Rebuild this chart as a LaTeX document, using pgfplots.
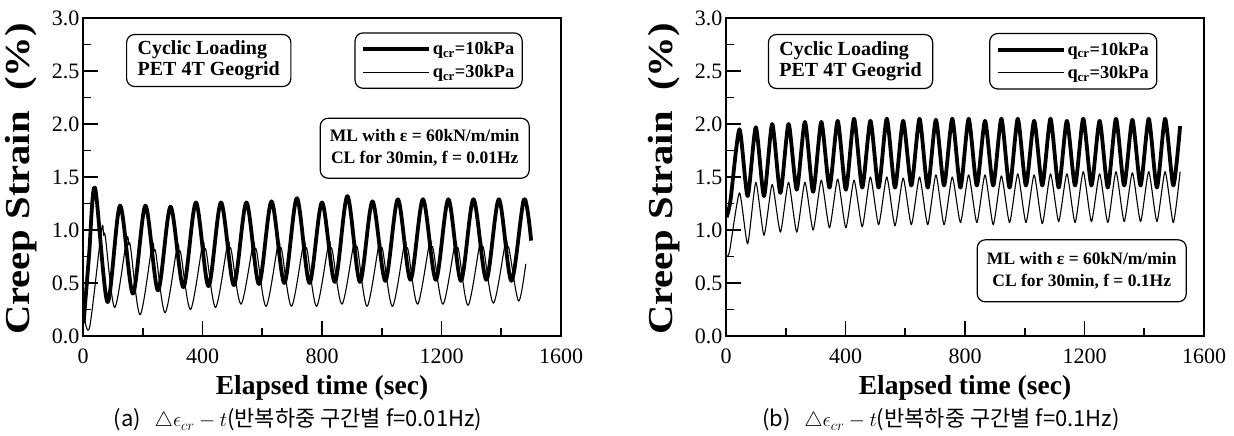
\documentclass[border=0pt]{standalone}
\usepackage{pgfplots}
\pgfplotsset{compat=1.18}
\usepackage{graphicx}
\usepackage{fontspec}
\setmainfont{Liberation Serif}
\newfontfamily\krfont{Noto Sans CJK KR}

\pgfplotstableread{
t v
2 0.12
20 0.75
40 1.40
82 0.32
124 1.23
167 0.40
209 1.23
251 0.43
293 1.22
336 0.46
378 1.26
420 0.47
462 1.26
505 0.48
547 1.26
589 0.49
631 1.27
674 0.50
716 1.30
758 0.50
800 1.26
843 0.51
885 1.32
927 0.51
969 1.27
1012 0.52
1054 1.29
1096 0.53
1138 1.29
1181 0.53
1223 1.29
1265 0.52
1307 1.29
1350 0.53
1392 1.29
1434 0.52
1476 1.29
1500 0.90
}\leftthick

\pgfplotstableread{
t v
2 0.22
22 0.08
62 1.00
69 0.95
75 0.93
106 0.27
146 0.91
153 0.86
159 0.84
191 0.20
231 0.85
238 0.80
244 0.78
275 0.22
315 0.84
322 0.79
328 0.77
360 0.25
400 0.86
407 0.81
413 0.79
444 0.27
484 0.87
491 0.82
497 0.80
529 0.30
569 0.86
576 0.81
582 0.79
613 0.28
653 0.87
660 0.82
666 0.80
698 0.28
738 0.87
745 0.82
751 0.80
782 0.28
822 0.87
829 0.82
835 0.80
867 0.30
907 0.88
914 0.83
920 0.81
951 0.28
991 0.87
998 0.82
1004 0.80
1036 0.28
1076 0.87
1083 0.82
1089 0.80
1120 0.30
1160 0.88
1167 0.83
1173 0.81
1205 0.30
1245 0.87
1252 0.82
1258 0.80
1289 0.29
1329 0.88
1336 0.83
1342 0.81
1374 0.31
1414 0.88
1421 0.83
1427 0.81
1458 0.33
1482 0.68
}\leftthin

\pgfplotstableread{
t v
2 1.12
15 1.28
45.0 1.95
72.4 1.32
99.8 1.97
127.2 1.32
154.6 2.00
182.0 1.35
209.4 2.00
236.8 1.38
264.2 2.02
291.6 1.36
319.0 2.02
346.4 1.40
373.8 2.03
401.2 1.38
428.6 2.05
456.0 1.40
483.4 2.03
510.8 1.40
538.2 2.05
565.6 1.40
593.0 2.03
620.4 1.42
647.8 2.05
675.2 1.40
702.6 2.04
730.0 1.42
757.4 2.05
784.8 1.40
812.2 2.05
839.6 1.42
867.0 2.03
894.4 1.42
921.8 2.05
949.2 1.40
976.6 2.05
1004.0 1.42
1031.4 2.03
1058.8 1.42
1086.2 2.05
1113.6 1.40
1141.0 2.03
1168.4 1.42
1195.8 2.05
1223.2 1.42
1250.6 2.03
1278.0 1.40
1305.4 2.05
1332.8 1.42
1360.2 2.04
1387.6 1.42
1415.0 2.05
1442.4 1.40
1469.8 2.05
1497.2 1.42
1520 1.98
}\rightthick

\pgfplotstableread{
t v
2 0.75
12 0.80
45.0 1.35
72.4 0.87
99.8 1.45
127.2 0.95
154.6 1.43
182.0 0.98
209.4 1.45
236.8 0.98
264.2 1.45
291.6 1.00
319.0 1.47
346.4 1.02
373.8 1.48
401.2 1.02
428.6 1.47
456.0 1.03
483.4 1.50
510.8 1.05
538.2 1.50
565.6 1.04
593.0 1.49
620.4 1.05
647.8 1.50
675.2 1.05
702.6 1.52
730.0 1.05
757.4 1.50
784.8 1.07
812.2 1.52
839.6 1.07
867.0 1.52
894.4 1.05
921.8 1.51
949.2 1.07
976.6 1.53
1004.0 1.07
1031.4 1.52
1058.8 1.06
1086.2 1.53
1113.6 1.08
1141.0 1.53
1168.4 1.07
1195.8 1.55
1223.2 1.08
1250.6 1.53
1278.0 1.07
1305.4 1.55
1332.8 1.08
1360.2 1.54
1387.6 1.08
1415.0 1.55
1442.4 1.08
1469.8 1.55
1497.2 1.07
1520 1.55
}\rightthin

\pgfplotsset{
  creep/.style={
    scale only axis, width=478pt, height=318pt,
    xmin=0, xmax=1600, ymin=0, ymax=3,
    xtick={0,400,800,1200,1600}, minor x tick num=1,
    ytick={0,0.5,1,1.5,2,2.5,3}, minor y tick num=1,
    xtick pos=left, ytick pos=left,
    tick align=inside,
    major tick length=15pt, minor tick length=8pt,
    every tick/.style={black, line width=1.6pt},
    axis line style={line width=1.8pt},
    tick label style={font=\fontsize{22}{22}\selectfont},
    /pgf/number format/assume math mode=true,
    /pgf/number format/1000 sep={},
    yticklabel style={/pgf/number format/.cd, fixed, fixed zerofill, precision=1},
    xticklabel style={anchor=center, yshift=-20pt},
    legend cell align=left,
    legend image code/.code={\draw[##1] (0pt,0pt) -- (66pt,0pt);},
    legend style={draw=black, line width=1.2pt, rounded corners=8pt,
      font=\bfseries\fontsize{18.3}{20}\selectfont, inner xsep=6pt, inner ysep=7pt,
      row sep=5pt},
  },
  thickline/.style={black, line width=3.8pt, smooth, tension=0.5, line join=round},
  thinline/.style={black, line width=1.1pt, smooth, tension=0.5, line join=round},
}
\tikzset{boxtxt/.style={draw, line width=1.2pt, rounded corners=8pt, anchor=north west}}

\begin{document}
\begin{tikzpicture}[x=1pt,y=1pt]
\useasboundingbox (0,0) rectangle (1234,436);

% ---------------- (a) ----------------
\begin{axis}[creep, name=L, at={(83pt,100pt)}, anchor=south west,
  legend style={at={(axis description cs:0.92,0.955)}, anchor=north east}]
\addplot[thickline] table[x=t,y=v] {\leftthick};
\addlegendentry{q\textsubscript{cr}=10kPa}
\addplot[thinline] table[x=t,y=v] {\leftthin};
\addlegendentry{q\textsubscript{cr}=30kPa}
\node[boxtxt, minimum width=163pt, minimum height=52pt, inner xsep=11pt,
  align=left, font=\bfseries\fontsize{20}{21.5}\selectfont]
  at (axis cs:144,2.85) {Cyclic Loading\\PET 4T Geogrid};
\node[boxtxt, minimum width=209pt, minimum height=60pt, align=center,
  font=\bfseries\fontsize{17.5}{22}\selectfont]
  at (axis cs:792,2.06) {ML with ε = 60kN/m/min\\CL for 30min, f = 0.01Hz};
\end{axis}
\node[rotate=90] at ([xshift=-62pt,yshift=-2pt]L.west) {\scalebox{1.16}[1]{\bfseries\fontsize{35}{35}\selectfont Creep Strain\ \ (\%)}};
\node[font=\bfseries\fontsize{27.5}{28}\selectfont] at ([yshift=-52pt]L.south) {Elapsed time (sec)};
\node[font=\krfont\fontsize{22}{22}\selectfont] at ([xshift=-24pt,yshift=-84pt]L.south)
  {(a)\ \ \,$\triangle\epsilon_{cr}-t$(반복하중 구간별 f=0.01Hz)};

% ---------------- (b) ----------------
\begin{axis}[creep, name=R, at={(726pt,100pt)}, anchor=south west,
  legend style={at={(axis description cs:0.9025,0.953)}, anchor=north east}]
\addplot[thickline, tension=0.4] table[x=t,y=v] {\rightthick};
\addlegendentry{q\textsubscript{cr}=10kPa}
\addplot[thinline, tension=0.35] table[x=t,y=v] {\rightthin};
\addlegendentry{q\textsubscript{cr}=30kPa}
\node[boxtxt, minimum width=163pt, minimum height=54pt, inner xsep=11pt,
  align=left, font=\bfseries\fontsize{20}{21.5}\selectfont]
  at (axis cs:140,2.85) {Cyclic Loading\\PET 4T Geogrid};
\node[boxtxt, minimum width=209pt, minimum height=62pt, align=center,
  font=\bfseries\fontsize{17.5}{22}\selectfont]
  at (axis cs:839,0.913) {ML with ε = 60kN/m/min\\CL for 30min, f = 0.1Hz};
\end{axis}
\node[rotate=90] at ([xshift=-62pt,yshift=-2pt]R.west) {\scalebox{1.16}[1]{\bfseries\fontsize{35}{35}\selectfont Creep Strain\ \ (\%)}};
\node[font=\bfseries\fontsize{27.5}{28}\selectfont] at ([yshift=-52pt]R.south) {Elapsed time (sec)};
\node[font=\krfont\fontsize{22}{22}\selectfont] at ([xshift=-24pt,yshift=-84pt]R.south)
  {(b)\ \ \,$\triangle\epsilon_{cr}-t$(반복하중 구간별 f=0.1Hz)};
\end{tikzpicture}
\end{document}
